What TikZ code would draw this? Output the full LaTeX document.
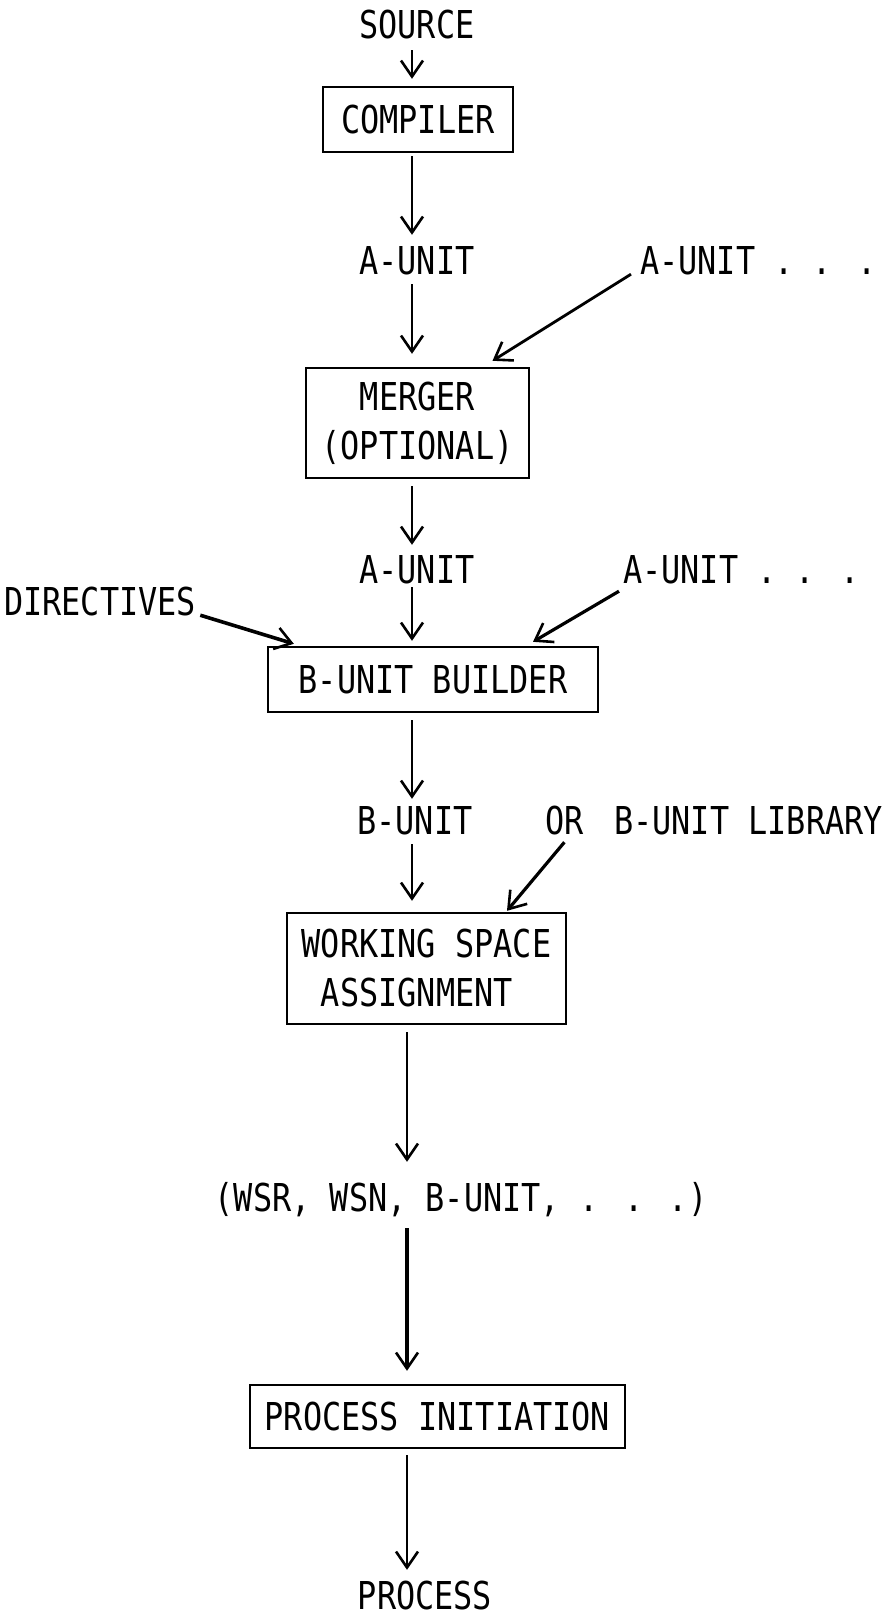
\documentclass[tikz,border=0pt]{standalone}
\usepackage{fontspec}
\newfontfamily\plotfont[FakeStretch=0.83]{DejaVu Sans Mono}
\usetikzlibrary{arrows.meta}
\begin{document}
\begin{tikzpicture}[x=1pt,y=-1pt,
  lbl/.style={inner sep=0pt, text height=28pt, text depth=0pt,
    font=\plotfont\fontsize{38.4}{49}\selectfont},
  stage/.style={draw, line width=2.4pt, inner sep=0pt,
    font=\plotfont\fontsize{38.4}{49}\selectfont},
  flow/.style={line width=2.4pt, -{Straight Barb[length=16pt,width=22pt,line width=2.6pt]}},
  heavy/.style={flow, line width=3.2pt},
]
\useasboundingbox (0,0) rectangle (883,1618);

% main column labels and stages
\node[lbl] (source) at (417,24) {SOURCE};
\node[stage, minimum width=190pt, minimum height=65pt] (compiler) at (418,119.5) {COMPILER};
\node[lbl] (au1) at (417,260) {A-UNIT};
\node[lbl, anchor=west] (au1x) at (640,260) {A-UNIT . . .};
\node[stage, align=center, minimum width=223pt, minimum height=110pt] (merger) at (417.5,423) {MERGER\\(OPTIONAL)};
\node[lbl] (au2) at (417,569) {A-UNIT};
\node[lbl, anchor=west] (au2x) at (623,569) {A-UNIT . . .};
\node[lbl, anchor=west] (dir) at (4,601) {DIRECTIVES};
\node[stage, minimum width=330pt, minimum height=65pt] (builder) at (433,679.5) {B-UNIT BUILDER};
\node[lbl] (bu) at (415,820) {B-UNIT};
\node[lbl, anchor=west] (or) at (545,820) {OR};
\node[lbl, anchor=west] (lib) at (614,820) {B-UNIT LIBRARY};
\node[stage, align=left, minimum width=279pt, minimum height=111pt] (wsa) at (426.5,968.5) {WORKING SPACE\\\hphantom{W}ASSIGNMENT};
\node[lbl] (wsr) at (461,1197) {(WSR, WSN, B-UNIT, . . .)};
\node[stage, minimum width=375pt, minimum height=63pt] (pi) at (437.5,1416.5) {PROCESS INITIATION};
\node[lbl] (proc) at (425,1595) {PROCESS};

% x positions of the vertical flow lines
\coordinate (upper) at (412,0);
\coordinate (lower) at (407,0);

% vertical flow
\draw[flow, shorten <=12pt, shorten >=7pt] (source.south -| upper) -- (compiler.north -| upper);
\draw[flow, shorten <=3pt, shorten >=11pt] (compiler.south -| upper) -- (au1.north -| upper);
\draw[flow, shorten <=10pt, shorten >=13pt] (au1.south -| upper) -- (merger.north -| upper);
\draw[flow, shorten <=7pt, shorten >=10pt] (merger.south -| upper) -- (au2.north -| upper);
\draw[flow, shorten <=4pt, shorten >=5pt] (au2.south -| upper) -- (builder.north -| upper);
\draw[flow, shorten <=7pt, shorten >=7pt] (builder.south -| upper) -- (bu.north -| upper);
\draw[flow, shorten <=10pt, shorten >=11pt] (bu.south -| upper) -- (wsa.north -| upper);
\draw[flow, shorten <=7pt, shorten >=21pt] (wsa.south -| lower) -- (wsr.north -| lower);
\draw[heavy, shorten <=17pt, shorten >=13pt] (wsr.south -| lower) -- (pi.north -| lower);
\draw[flow, shorten <=6pt, shorten >=11pt] (pi.south -| lower) -- (proc.north -| lower);

% side inputs
\draw[flow, line width=2.8pt] ([xshift=-9pt]au1x.south west) -- ([xshift=75pt,yshift=6pt]merger.north);
\draw[heavy] ([shift={(-4pt,-8pt)}]au2x.south west) -- ([xshift=100pt,yshift=4pt]builder.north);
\draw[heavy, line width=3.6pt] ([xshift=4pt]dir.south east) -- ([xshift=27pt,yshift=2pt]builder.north west);
\draw[heavy] ([yshift=-8pt]or.south) -- ([xshift=80.5pt,yshift=1pt]wsa.north);
\end{tikzpicture}
\end{document}
